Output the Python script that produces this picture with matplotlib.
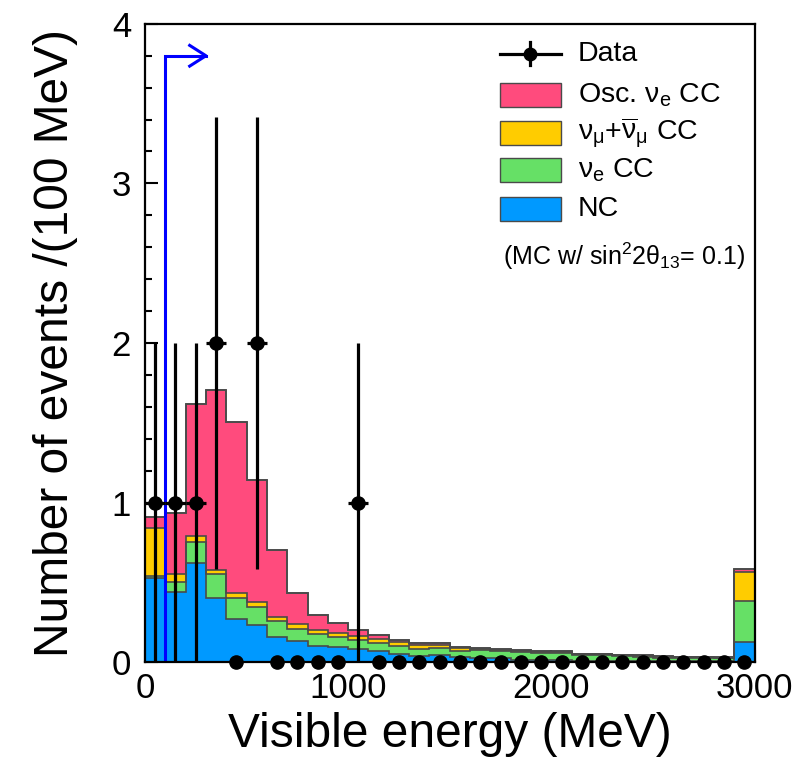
#!/usr/bin/env python3
"""
Visible energy spectrum: data vs stacked MC (nu_e appearance candidates).
"""
import matplotlib
matplotlib.use("Agg")
import matplotlib.pyplot as plt
import numpy as np
from matplotlib.patches import Rectangle
from matplotlib.ticker import MultipleLocator

plt.rcParams['font.family'] = ['Liberation Sans', 'DejaVu Sans']
plt.rcParams['mathtext.fontset'] = 'custom'
plt.rcParams['mathtext.rm'] = 'Liberation Sans'
plt.rcParams['mathtext.it'] = 'Liberation Sans:italic'
plt.rcParams['mathtext.default'] = 'regular'

# 30 bins of 100 MeV, 0 - 3000 MeV
bin_edges = np.arange(0, 3100, 100)

# MC components (events / 100 MeV), stacked bottom -> top
nc = [0.53, 0.44, 0.62, 0.40, 0.27, 0.23, 0.155, 0.13, 0.10, 0.095,
      0.08, 0.07, 0.05, 0.04, 0.045, 0.03, 0.028, 0.025, 0.013, 0.012,
      0.013, 0.009, 0.008, 0.007, 0.006, 0.006, 0.005, 0.005, 0.005, 0.125]
nue_cc = [0.01, 0.06, 0.13, 0.15, 0.13, 0.115, 0.10, 0.08, 0.075, 0.06,
          0.06, 0.05, 0.05, 0.045, 0.045, 0.042, 0.045, 0.045, 0.05, 0.048,
          0.046, 0.035, 0.035, 0.03, 0.028, 0.022, 0.022, 0.02, 0.018, 0.255]
numu_cc = [0.30, 0.055, 0.04, 0.03, 0.033, 0.03, 0.03, 0.027, 0.025, 0.025,
           0.025, 0.025, 0.025, 0.025, 0.02, 0.015, 0.008, 0.008, 0.006, 0.005,
           0.006, 0.005, 0.005, 0.005, 0.005, 0.004, 0.004, 0.004, 0.004, 0.185]
osc_nue = [0.068, 0.378, 0.829, 1.127, 1.073, 0.765, 0.418, 0.194, 0.093, 0.063,
           0.036, 0.022, 0.013, 0.011, 0.007, 0.009, 0.005, 0.006, 0.006, 0.004,
           0.006, 0.003, 0.004, 0.004, 0.005, 0.004, 0.004, 0.004, 0.004, 0.016]

# observed events per bin
data_counts = [1, 1, 1, 2, 0, 2, 0, 0, 0, 0,
               1, 0, 0, 0, 0, 0, 0, 0, 0, 0,
               0, 0, 0, 0, 0, 0, 0, 0, 0, 0]

# selection cut (MeV) and arrow tip
cut_energy = 100
arrow_end = 300
arrow_height = 3.8

components = [
    ('NC', nc, '#0099FF'),
    (r'$\nu_{e}$ CC', nue_cc, '#66E066'),
    (r'$\nu_{\mu}$+$\overline{\nu}_{\mu}$ CC', numu_cc, '#FFCC00'),
    (r'Osc. $\nu_{e}$ CC', osc_nue, '#FF4B7D'),
]

fig = plt.figure(figsize=(8.01, 7.69), dpi=100)
ax = fig.add_axes([0.181, 0.139, 0.761, 0.830])

# stacked histogram
bottom = np.zeros(len(nc))
for label, vals, color in components:
    top = bottom + np.array(vals)
    ax.stairs(top, bin_edges, baseline=bottom, fill=True, color=color, lw=0, zorder=2)
    ax.stairs(top, bin_edges, baseline=None, color='#4a4a4a', lw=1.2, zorder=3)
    bottom = top
# outline of last bin edges
ax.stairs(bottom, bin_edges, baseline=0, color='#4a4a4a', lw=1.2, zorder=3)

# data points
centers = 0.5 * (bin_edges[:-1] + bin_edges[1:])
counts = np.array(data_counts, dtype=float)
nz = counts > 0
ax.errorbar(centers[nz], counts[nz], yerr=np.sqrt(counts[nz]), xerr=50,
            fmt='o', color='black', ms=9.5, elinewidth=2.3, capsize=0, zorder=5)
ax.plot(centers[~nz], counts[~nz], 'o', color='black', ms=9.5, zorder=5, clip_on=False)

# selection arrow
ax.plot([cut_energy, cut_energy, arrow_end], [0, arrow_height, arrow_height],
        color='blue', lw=2.2, zorder=4, solid_joinstyle='miter')
ax.plot([arrow_end - 80, arrow_end, arrow_end - 80],
        [arrow_height + 0.065, arrow_height, arrow_height - 0.065],
        color='blue', lw=2.2, zorder=4)

ax.set_xlim(0, 3000)
ax.set_ylim(0, 4)
ax.xaxis.set_major_locator(MultipleLocator(1000))
ax.xaxis.set_minor_locator(MultipleLocator(500))
ax.yaxis.set_major_locator(MultipleLocator(1))
ax.yaxis.set_minor_locator(MultipleLocator(0.2))
ax.tick_params(which='both', direction='in', top=False, right=False,
               labelsize=25, width=1.5)
ax.tick_params(which='major', length=9)
ax.tick_params(which='minor', length=4.8)
ax.tick_params(axis='x', pad=7)
ax.tick_params(axis='y', pad=10)
for sp in ax.spines.values():
    sp.set_linewidth(1.6)
    sp.set_zorder(6)

ax.set_xlabel('Visible energy (MeV)', fontsize=34.5, labelpad=5)
ax.set_ylabel('Number of events /(100 MeV)', fontsize=34.5, labelpad=24)

# legend drawn by hand
tr = ax.transAxes
box_x0, box_w, box_h = 0.582, 0.100, 0.0375
text_x = 0.710
rows_y = [0.953, 0.888, 0.829, 0.771, 0.710]
ax.plot([box_x0, box_x0 + box_w], [rows_y[0], rows_y[0]], color='black',
        lw=2.3, transform=tr, zorder=7)
ax.plot([box_x0 + box_w / 2] * 2, [rows_y[0] - 0.018, rows_y[0] + 0.018],
        color='black', lw=2.3, transform=tr, zorder=7)
ax.plot(box_x0 + box_w / 2, rows_y[0], 'o', color='black', ms=9,
        transform=tr, zorder=7)
ax.text(text_x, rows_y[0], 'Data', fontsize=20.5, va='center', transform=tr)
for (label, vals, color), y in zip(components[::-1], rows_y[1:]):
    ax.add_patch(Rectangle((box_x0, y - box_h / 2), box_w, box_h, facecolor=color,
                           edgecolor='#4a4a4a', lw=1.0, transform=tr, zorder=7))
    ax.text(text_x, y, label, fontsize=20.5, va='center', transform=tr)

ax.text(0.985, 0.636, r'(MC w/ sin$^{2}$2$\theta_{13}$= 0.1)', fontsize=18,
        ha='right', va='center', transform=tr)

fig.savefig('out.png', dpi=100)
